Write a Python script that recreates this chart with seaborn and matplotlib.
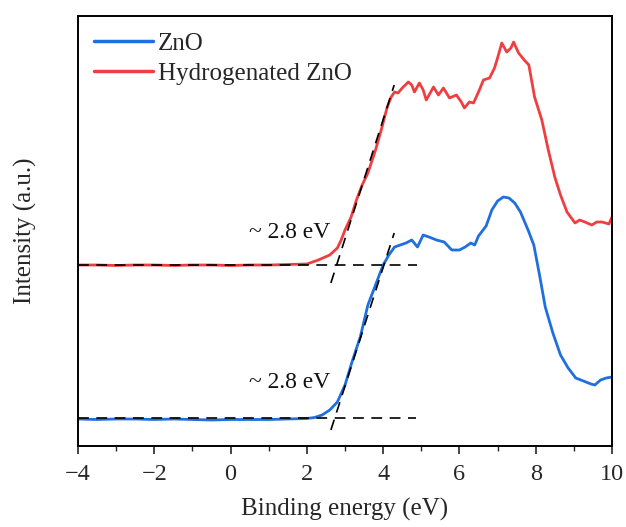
import numpy as np
import pandas as pd
import matplotlib
matplotlib.use("Agg")
import matplotlib.pyplot as plt
import seaborn as sns

# ---- data ----
zno_energy = [-4.0, -3.5, -3.0, -2.5, -2.0, -1.5, -1.0, -0.5, 0.0, 0.5, 1.0, 1.5, 2.0, 2.2, 2.4,
              2.6, 2.8, 3.0, 3.2, 3.4, 3.6, 3.8, 4.0, 4.15, 4.3, 4.45, 4.6, 4.75, 4.9, 5.05,
              5.2, 5.4, 5.6, 5.8, 6.0, 6.15, 6.3, 6.4, 6.5, 6.7, 6.85, 7.0, 7.15, 7.3, 7.45,
              7.6, 7.8, 7.95, 8.1, 8.25, 8.45, 8.65, 8.85, 9.05, 9.25, 9.45, 9.55, 9.7, 9.85, 10.0]
zno_intensity = [28, 27.5, 28, 28, 27.5, 28, 27.5, 27, 27.5, 27.5, 27.5, 28, 28.5, 29.5, 32,
                 37, 45, 62, 87, 110, 142, 162, 182, 192, 200, 202, 204, 207, 200, 212,
                 210, 207, 205, 197, 197, 200, 204, 202, 211, 221, 237, 246, 250, 249, 244,
                 235, 217, 202, 172, 140, 114, 92, 79, 69, 66, 63, 62, 67, 69, 70]

hzno_energy = [-4.0, -3.5, -3.0, -2.5, -2.0, -1.5, -1.0, -0.5, 0.0, 0.5, 1.0, 1.5, 2.0, 2.3,
               2.6, 2.8, 2.9, 3.0, 3.16, 3.3, 3.45, 3.6, 3.8, 3.95, 4.1, 4.21, 4.3, 4.39, 4.5,
               4.66, 4.75, 4.82, 4.95, 5.05, 5.13, 5.32, 5.45, 5.58, 5.74, 5.92, 6.05, 6.13,
               6.26, 6.37, 6.5, 6.63, 6.79, 6.92, 7.0, 7.11, 7.24, 7.35, 7.42, 7.55, 7.7, 7.82,
               7.97, 8.16, 8.33, 8.5, 8.65, 8.82, 9.03, 9.15, 9.29, 9.47, 9.6, 9.74, 9.92, 10.0]
hzno_intensity = [182, 182, 181.5, 182, 182, 181.5, 182, 182, 181.5, 182, 182, 182.5, 183, 187,
                  192, 199, 207, 217, 230, 247, 262, 274, 297, 317, 339, 350, 355, 354, 359,
                  365, 362, 355, 364, 357, 347, 360, 352, 359, 349, 352, 345, 339,
                  345, 344, 355, 367, 369, 379, 389, 404, 395, 399, 405, 394, 387, 382,
                  350, 327, 297, 270, 252, 235, 224, 227, 225, 222, 225, 225, 223, 230]

series_names = ["ZnO", "Hydrogenated ZnO"]
series_colors = ["#1f6fde", "#ef3e42"]

# guide (tangent/baseline) lines: (x0, x1, y0, y1)
guide_lines = [
    (-4.0, 4.9, 182, 182),
    (2.63, 4.29, 164, 362),
    (-4.0, 4.85, 29, 29),
    (2.63, 4.29, 17, 214),
]
gap_labels = ["~ 2.8 eV", "~ 2.8 eV"]
gap_label_pos = [(2.62, 215), (2.62, 65)]

df = pd.concat([
    pd.DataFrame({"Binding energy": zno_energy, "Intensity": zno_intensity, "Sample": series_names[0]}),
    pd.DataFrame({"Binding energy": hzno_energy, "Intensity": hzno_intensity, "Sample": series_names[1]}),
], ignore_index=True)

sns.set_style("ticks")
plt.rcParams["font.family"] = ["Liberation Serif", "DejaVu Serif"]

fig = plt.figure(figsize=(6.26, 5.27), dpi=100)
ax = fig.add_axes([78 / 626, 1 - 446 / 527, 534 / 626, 430 / 527])

sns.lineplot(data=df, x="Binding energy", y="Intensity", hue="Sample",
             palette=dict(zip(series_names, series_colors)), linewidth=2.0,
             ax=ax, sort=False, estimator=None, zorder=2)

for x0, x1, y0, y1 in guide_lines:
    ax.plot([x0, x1], [y0, y1], color="black", linewidth=1.2,
            linestyle=(0, (6.5, 4.5)), zorder=3)

for txt, (tx, ty) in zip(gap_labels, gap_label_pos):
    ax.text(tx, ty, txt, fontsize=17, ha="right", va="center", color="#111111")

ax.set_xlim(-4, 10)
ax.set_ylim(1, 431)
ax.set_xticks(np.arange(-4, 11, 2))
ax.set_xticks(np.arange(-3, 10, 2), minor=True)
ax.set_xticklabels([str(int(v)).replace("-", "\u2212") for v in np.arange(-4, 11, 2)])
ax.set_yticks([])
ax.tick_params(axis="x", which="major", direction="out", length=6, width=1.2,
               labelsize=17.5, pad=7)
ax.tick_params(axis="x", which="minor", direction="out", length=3.5, width=1.0)
for s in ax.spines.values():
    s.set_visible(True)
    s.set_linewidth(1.4)
    s.set_color("black")

ax.set_xlabel("Binding energy (eV)", fontsize=18, labelpad=9)
ax.set_ylabel("Intensity (a.u.)", fontsize=18)
ax.yaxis.set_label_coords(-0.077, 0.5)

leg = ax.legend(loc="upper left", frameon=False, fontsize=18, handlelength=2.35,
                handletextpad=0.2, labelspacing=0.3, borderaxespad=0.25,
                bbox_to_anchor=(0.0, 1.0))
for line in leg.get_lines():
    line.set_linewidth(2.5)

fig.savefig("out.png", dpi=100)
